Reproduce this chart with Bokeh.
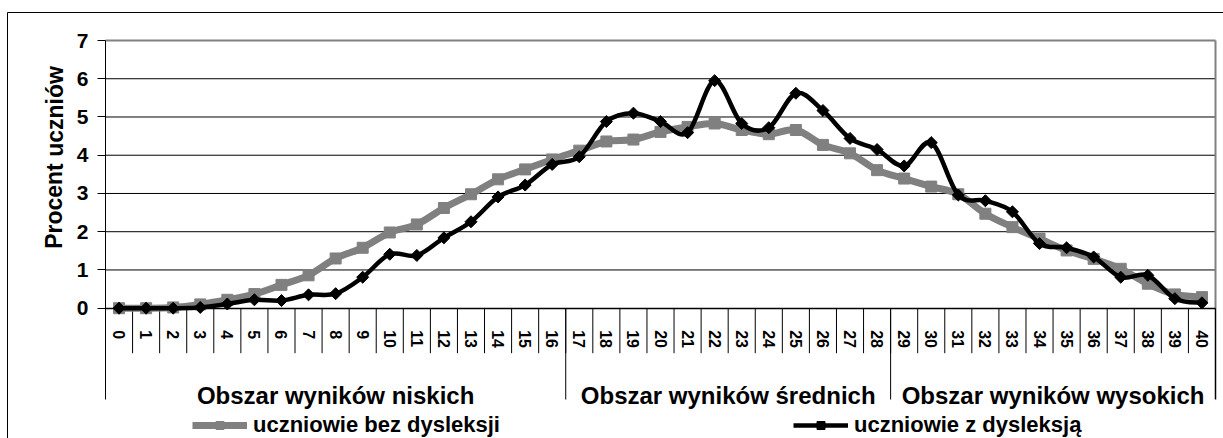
from bokeh.plotting import figure
from bokeh.models import (Range1d, FixedTicker, ColumnDataSource, Legend, LegendItem)
from bokeh.core.properties import value
from bokeh.embed import file_html
from bokeh.resources import INLINE

# ---------------- data ----------------
categories = ["0", "1", "2", "3", "4", "5", "6", "7", "8", "9", "10",
              "11", "12", "13", "14", "15", "16", "17", "18", "19", "20",
              "21", "22", "23", "24", "25", "26", "27", "28", "29", "30",
              "31", "32", "33", "34", "35", "36", "37", "38", "39", "40"]
bez_dysleksji = [0.0, 0.0, 0.02, 0.1, 0.22, 0.37, 0.61, 0.86, 1.3, 1.58, 1.98,
                 2.19, 2.62, 2.98, 3.37, 3.63, 3.89, 4.12, 4.36, 4.41, 4.61,
                 4.74, 4.83, 4.66, 4.55, 4.66, 4.27, 4.05, 3.61, 3.39, 3.18,
                 2.98, 2.47, 2.12, 1.82, 1.51, 1.29, 1.03, 0.64, 0.36, 0.29]
z_dysleksja = [0.0, 0.0, 0.0, 0.02, 0.11, 0.22, 0.2, 0.35, 0.38, 0.81, 1.41,
               1.38, 1.84, 2.26, 2.91, 3.22, 3.76, 3.96, 4.88, 5.1, 4.88,
               4.59, 5.95, 4.83, 4.72, 5.62, 5.17, 4.44, 4.15, 3.72, 4.33,
               2.96, 2.81, 2.52, 1.69, 1.58, 1.34, 0.81, 0.86, 0.25, 0.14]
y_ticks = [0, 1, 2, 3, 4, 5, 6, 7]
groups = ["Obszar wyników niskich", "Obszar wyników średnich", "Obszar wyników wysokich"]
group_first = ["0", "17", "29"]
group_last = ["16", "28", "40"]
y_title = "Procent uczniów"
series_names = ["uczniowie bez dysleksji", "uczniowie z dysleksją"]

# ---------------- layout (pixels of the 1223x438 canvas) ----------------
FONT = "Liberation Sans"
W, H = 1223, 438
PLOT_L, PLOT_R = 105, 1215          # plot area left / right pixel column
PLOT_T, AXIS_Y = 40, 307.7          # pixel row of the top tick and of value 0
n = len(categories)
UX = (PLOT_R - PLOT_L) / n          # px per category
Y_MAX = y_ticks[-1]
UY = (AXIS_Y - PLOT_T) / Y_MAX      # px per percent


def xd(px):            # pixel column -> data x (category index)
    return (px - PLOT_L) / UX - 0.5


def yd(py):            # pixel row -> data y
    return (AXIS_Y - py) / UY


X_L, X_R = -0.5, n - 0.5
Y_LOW = yd(399)
GRAY = "#808080"

p = figure(width=W, height=H, output_backend="svg", toolbar_location=None,
           x_range=Range1d(xd(0), xd(W)), y_range=Range1d(yd(H), yd(0)),
           min_border_left=0, min_border_right=0, min_border_top=0, min_border_bottom=0,
           outline_line_color=None, background_fill_color="white",
           border_fill_color="white")
p.title.visible = False
p.xgrid.visible = False
p.ygrid.visible = False

# outer chart border (top and left edges are inside the picture)
p.segment(x0=[xd(7), xd(7)], y0=[yd(12), yd(12)], x1=[xd(7), xd(W + 5)], y1=[yd(H + 5), yd(12)],
          line_color="black", line_width=1)

# horizontal grid lines (1..6) and gray top border of plot area
p.segment(x0=[X_L] * (len(y_ticks) - 2), y0=y_ticks[1:-1], x1=[X_R] * (len(y_ticks) - 2),
          y1=y_ticks[1:-1], line_color="black", line_width=1)
p.segment(x0=[X_L], y0=[Y_MAX], x1=[X_R], y1=[Y_MAX], line_color=GRAY, line_width=2)
# right edge of the plot area
p.segment(x0=[X_R], y0=[Y_MAX], x1=[X_R], y1=[0], line_color=GRAY, line_width=2)
p.segment(x0=[X_R], y0=[0], x1=[X_R], y1=[Y_LOW], line_color="black", line_width=1.5)
# category boundaries
tick_len = 45 / UY
bx = [i - 0.5 for i in range(1, n)]
p.segment(x0=bx, y0=[0] * len(bx), x1=bx, y1=[-tick_len] * len(bx),
          line_color="black", line_width=1)
# group separators
gx = [categories.index(f) - 0.5 for f in group_first[1:]]
p.segment(x0=gx, y0=[0] * len(gx), x1=gx, y1=[Y_LOW] * len(gx),
          line_color="black", line_width=1)
# group labels
gcx = [(categories.index(f) + categories.index(l)) / 2 for f, l in zip(group_first, group_last)]
p.text(x=gcx, y=[yd(395)] * len(gcx), text=groups,
       text_font=value(FONT), text_font_size="24px", text_font_style="bold",
       text_align="center", text_baseline="alphabetic", text_color="black")
# y axis title
p.text(x=[xd(54)], y=[yd(157)], text=[y_title], angle=1.5707963,
       text_font=value(FONT), text_font_size="23px", text_font_style="bold",
       text_align="center", text_baseline="middle", text_color="black")

# y axis
p.yaxis.fixed_location = X_L
p.yaxis.bounds = (Y_LOW, Y_MAX)
p.yaxis.ticker = FixedTicker(ticks=y_ticks)
p.yaxis.major_label_text_font = FONT
p.yaxis.major_label_text_font_size = "21px"
p.yaxis.major_label_text_font_style = "bold"
p.yaxis.major_label_text_color = "black"
p.yaxis.major_tick_out = 8
p.yaxis.major_tick_in = 0
p.yaxis.minor_tick_line_color = None
p.yaxis.major_label_standoff = 9
p.yaxis.axis_line_color = "black"
p.yaxis.major_tick_line_color = "black"

# x axis (category labels) at y = 0
p.xaxis.fixed_location = 0
p.xaxis.bounds = (X_L, X_R)
p.xaxis.ticker = FixedTicker(ticks=list(range(n)))
p.xaxis.major_label_overrides = {i: c for i, c in enumerate(categories)}
p.xaxis.major_label_orientation = "vertical"
p.xaxis.major_tick_out = 0
p.xaxis.major_tick_in = 0
p.xaxis.minor_tick_line_color = None
p.xaxis.major_label_standoff = 22
p.xaxis.major_label_text_font = FONT
p.xaxis.major_label_text_font_size = "16px"
p.xaxis.major_label_text_font_style = "bold"
p.xaxis.major_label_text_color = "black"
p.xaxis.axis_line_color = "black"
p.xaxis.axis_line_width = 1.5


def smooth(vals):
    pts = list(zip(range(len(vals)), vals))
    d = {"x0": [], "y0": [], "x1": [], "y1": [], "cx0": [], "cy0": [], "cx1": [], "cy1": []}
    for i in range(len(pts) - 1):
        p0 = pts[i - 1] if i > 0 else pts[i]
        p1 = pts[i]
        p2 = pts[i + 1]
        p3 = pts[i + 2] if i + 2 < len(pts) else pts[i + 1]
        d["x0"].append(p1[0]); d["y0"].append(p1[1])
        d["x1"].append(p2[0]); d["y1"].append(p2[1])
        d["cx0"].append(p1[0] + (p2[0] - p0[0]) / 6); d["cy0"].append(p1[1] + (p2[1] - p0[1]) / 6)
        d["cx1"].append(p2[0] - (p3[0] - p1[0]) / 6); d["cy1"].append(p2[1] - (p3[1] - p1[1]) / 6)
    return ColumnDataSource(d)


xi = list(range(n))
g_line = p.bezier(x0="x0", y0="y0", x1="x1", y1="y1", cx0="cx0", cy0="cy0", cx1="cx1", cy1="cy1",
                  source=smooth(bez_dysleksji), line_color=GRAY, line_width=7)
g_mark = p.scatter(x=xi, y=bez_dysleksji, marker="square", size=11,
                   fill_color=GRAY, line_color=GRAY)
k_line = p.bezier(x0="x0", y0="y0", x1="x1", y1="y1", cx0="cx0", cy0="cy0", cx1="cx1", cy1="cy1",
                  source=smooth(z_dysleksja), line_color="black", line_width=4.5)
k_mark = p.scatter(x=xi, y=z_dysleksja, marker="square", angle=0.7853982, size=8.5,
                   fill_color="black", line_color="black")

legend = Legend(items=[LegendItem(label=series_names[0], renderers=[g_line, g_mark]),
                       LegendItem(label=series_names[1], renderers=[k_line, k_mark])],
                orientation="horizontal", location=(192, 0),
                glyph_width=55, glyph_height=20, label_standoff=6, spacing=293,
                padding=0, margin=0, border_line_color=None, background_fill_alpha=0,
                label_text_font=FONT, label_text_font_size="22px",
                label_text_font_style="bold", label_text_color="black")
p.add_layout(legend, "center")

open("out.html", "w").write(file_html(p, INLINE))
